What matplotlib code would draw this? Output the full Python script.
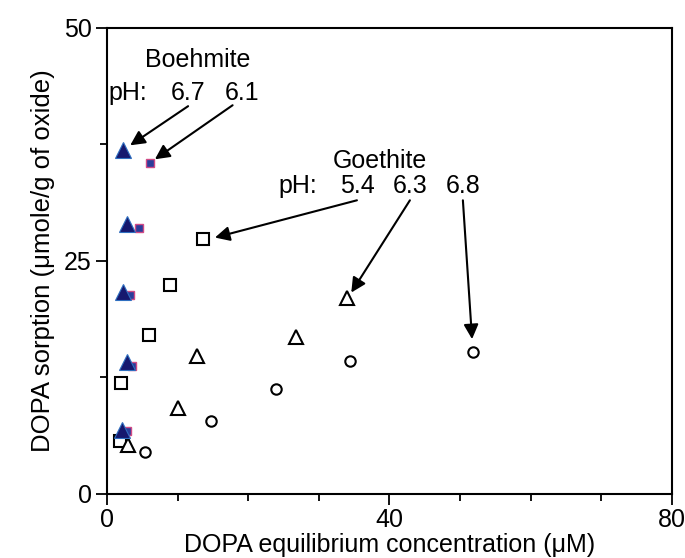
import matplotlib
matplotlib.use("Agg")
import matplotlib.pyplot as plt
from matplotlib.ticker import MultipleLocator

plt.rcParams['font.family'] = ['Liberation Sans', 'DejaVu Sans']

# Boehmite (filled symbols)
boe_67_x = [2.3, 2.8, 2.3, 2.8, 2.1]
boe_67_y = [36.9, 29.0, 21.7, 14.2, 6.8]
boe_61_x = [6.1, 4.5, 3.3, 3.5, 2.8]
boe_61_y = [35.5, 28.5, 21.3, 13.7, 6.7]

# Goethite (open symbols)
goe_54_x = [1.8, 2.0, 5.9, 8.9, 13.6]
goe_54_y = [5.7, 11.9, 17.0, 22.4, 27.3]
goe_63_x = [3.0, 10.1, 12.7, 26.8, 34.0]
goe_63_y = [5.2, 9.2, 14.8, 16.8, 21.0]
goe_68_x = [5.4, 14.7, 23.9, 34.4, 51.8]
goe_68_y = [4.5, 7.8, 11.2, 14.3, 15.2]

fig = plt.figure(figsize=(6.85, 5.58), dpi=100)
ax = fig.add_axes([0.156, 0.115, 0.825, 0.835])

ax.plot(goe_54_x, goe_54_y, 's', ms=8.5, mfc='white', mec='black', mew=1.5, ls='none')
ax.plot(goe_63_x, goe_63_y, '^', ms=10.5, mfc='white', mec='black', mew=1.5, ls='none')
ax.plot(goe_68_x, goe_68_y, 'o', ms=7.5, mfc='white', mec='black', mew=1.5, ls='none')
ax.plot(boe_61_x, boe_61_y, 's', ms=5.5, mfc='#2b3d9a', mec='#d04a86', mew=1, ls='none')
ax.plot(boe_67_x, boe_67_y, '^', ms=11, mfc='#16186e', mec='#2f6fc0', mew=0.8, ls='none')

ax.set_xlim(0, 80)
ax.set_ylim(0, 50)
ax.xaxis.set_major_locator(MultipleLocator(40))
ax.xaxis.set_minor_locator(MultipleLocator(10))
ax.yaxis.set_major_locator(MultipleLocator(25))
ax.yaxis.set_minor_locator(MultipleLocator(12.5))
ax.tick_params(which='both', direction='out', top=False, right=False, width=1.3,
               labelsize=18)
ax.tick_params(which='major', length=8)
ax.tick_params(which='minor', length=5)
ax.tick_params(axis='y', pad=3)
ax.tick_params(axis='x', pad=2)
for s in ax.spines.values():
    s.set_linewidth(1.5)

ax.set_xlabel('DOPA equilibrium concentration (\u03bcM)', fontsize=18, labelpad=1)
ax.set_ylabel('DOPA sorption (\u03bcmole/g of oxide)', fontsize=18.5, labelpad=6)

fs = 18
ax.text(12.9, 46.6, 'Boehmite', fontsize=fs, ha='center', va='center')
ax.text(3.0, 43.0, 'pH:', fontsize=fs, ha='center', va='center')
ax.text(11.5, 43.0, '6.7', fontsize=fs, ha='center', va='center')
ax.text(19.1, 43.0, '6.1', fontsize=fs, ha='center', va='center')

ax.text(38.7, 35.7, 'Goethite', fontsize=fs, ha='center', va='center')
ax.text(27.0, 33.0, 'pH:', fontsize=fs, ha='center', va='center')
ax.text(35.4, 33.0, '5.4', fontsize=fs, ha='center', va='center')
ax.text(42.9, 33.0, '6.3', fontsize=fs, ha='center', va='center')
ax.text(50.4, 33.0, '6.8', fontsize=fs, ha='center', va='center')

arrows = [
    ((11.5, 41.6), (3.3, 37.4)),
    ((17.8, 41.7), (6.8, 35.9)),
    ((35.4, 31.5), (15.3, 27.5)),
    ((42.9, 31.5), (34.6, 21.6)),
    ((50.4, 31.5), (51.7, 16.6)),
]
for start, end in arrows:
    ax.annotate('', xy=end, xytext=start,
                arrowprops=dict(arrowstyle='-|>', color='black', lw=1.5,
                                mutation_scale=22, shrinkA=0, shrinkB=0))

fig.savefig('out.png', dpi=100)
